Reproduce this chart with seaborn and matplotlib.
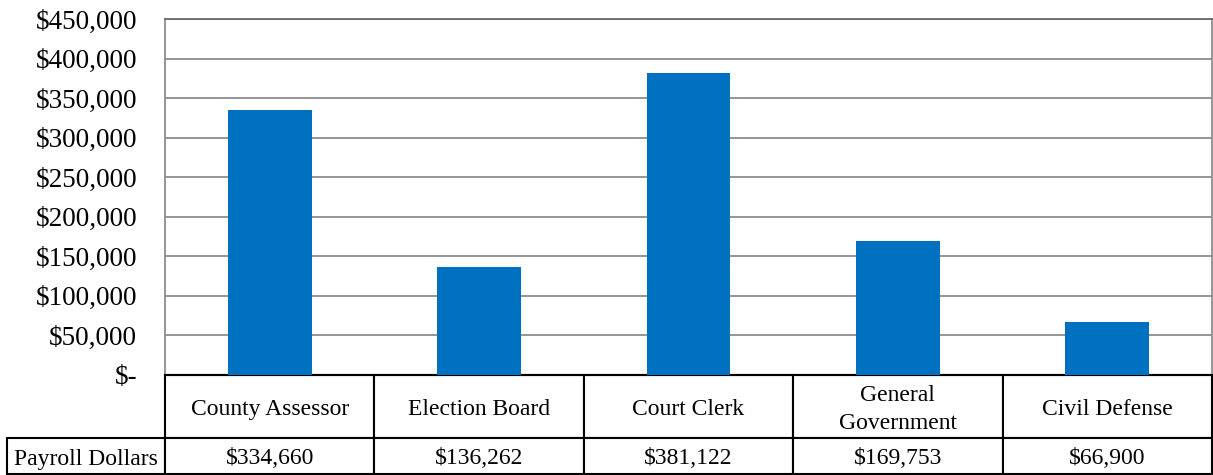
import matplotlib
matplotlib.use("Agg")
import matplotlib.pyplot as plt
import seaborn as sns
import pandas as pd
from matplotlib.ticker import FuncFormatter
from matplotlib.transforms import Affine2D

categories = ["County Assessor", "Election Board", "Court Clerk", "General Government", "Civil Defense"]
header_labels = ["County Assessor", "Election Board", "Court Clerk", "General\nGovernment", "Civil Defense"]
payroll = [334660, 136262, 381122, 169753, 66900]
row_label = "Payroll Dollars"
yticks = [0, 50000, 100000, 150000, 200000, 250000, 300000, 350000, 400000, 450000]

sns.set_theme(style="white")
plt.rcParams["font.family"] = ["Liberation Serif", "DejaVu Serif"]

W, H = 1213, 475
fig = plt.figure(figsize=(W / 100, H / 100), dpi=100)
ax_l, ax_r, ax_t, ax_b = 165, 1212, 19, 375
ax = fig.add_axes([ax_l / W, 1 - ax_b / H, (ax_r - ax_l) / W, (ax_b - ax_t) / H])

df = pd.DataFrame({"Category": categories, "Payroll": payroll})
sns.barplot(data=df, x="Category", y="Payroll", color="#0070C0", width=0.4,
            saturation=1, linewidth=0, ax=ax, zorder=3)

ax.set_ylim(0, 450000)
ax.set_yticks(yticks)
ax.yaxis.set_major_formatter(FuncFormatter(lambda v, p: "$-" if v == 0 else f"${v:,.0f}"))
ax.tick_params(axis="y", length=0, pad=20, labelsize=19.5, colors="black")
ax.set_xticks([])
ax.set_xlabel("")
ax.set_ylabel("")
ax.yaxis.grid(True, color="#8c8c8c", linewidth=1.3, zorder=0)
ax.set_axisbelow(True)
for s in ["left", "right", "top"]:
    ax.spines[s].set_color("#8c8c8c")
    ax.spines[s].set_linewidth(1.3)
ax.spines["top"].set_color("#6a6a6a")
ax.spines["bottom"].set_color("black")
ax.spines["bottom"].set_linewidth(1.5)

# data table below the plot
axw = ax_r - ax_l
axh = ax_b - ax_t
label_w = ax_l - 7
hdr_h, row_h = 63, 36
val_labels = [f"${v:,.0f}" for v in payroll]
tbl = ax.table(cellText=[[row_label] + val_labels],
               colLabels=[""] + header_labels,
               cellLoc="center", colLoc="center", loc="bottom",
               bbox=[-label_w / axw, -(hdr_h + row_h) / axh,
                     (axw + label_w) / axw, (hdr_h + row_h) / axh])
tbl.auto_set_font_size(False)
tbl.set_fontsize(17)
for (r, c), cell in tbl.get_celld().items():
    cell.set_width(label_w if c == 0 else axw / 5)
    cell.set_height(hdr_h if r == 0 else row_h)
    cell.set_edgecolor("black")
    cell.set_linewidth(1.5)
    cell.set_facecolor("white")
    txt = cell.get_text()
    txt.set_color("black")
    txt.set_linespacing(1.45)
    txt.set_transform(Affine2D().translate(0, -3))
    if r == 0 and c == 0:
        cell.visible_edges = ""

fig.savefig("out.png", dpi=100, facecolor="white")
